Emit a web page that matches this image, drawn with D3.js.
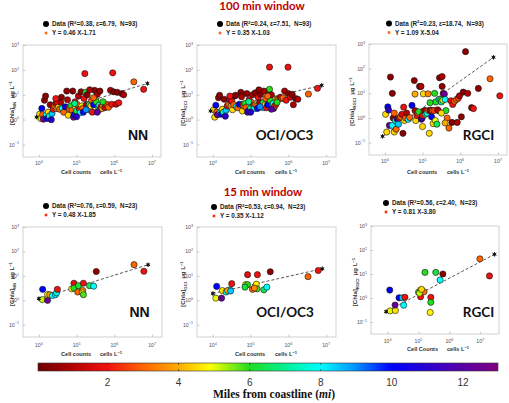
<!DOCTYPE html>
<html><head><meta charset="utf-8">
<script src="https://cdn.jsdelivr.net/npm/d3@7"></script>
<style>
body{margin:0;background:#fff}
svg{display:block}
text{white-space:pre}
</style></head><body>
<svg id="c" width="509" height="403"></svg>
<script>
// ---------- DATA: [cells per L, Chla (ug/L), miles from coastline] ----------
const nn100 = [[1.05e4,1.66,4.5],[1.12e4,1.12,4.5],[1.2e4,2.82,10],[1.26e4,1.58,3],[1.32e4,1.05,12.5],[1.41e4,6.03,0.5],[1.51e4,8.91,0.5],[1.58e4,1.58,8],[1.66e4,1.12,10],[1.78e4,2.0,4.5],[1.91e4,1.41,7.5],[2.0e4,3.98,0.5],[2.14e4,1.0,11],[2.24e4,1.78,8.5],[2.4e4,2.63,2],[2.63e4,3.55,3],[2.82e4,4.47,1.5],[3.02e4,2.82,3.5],[3.16e4,4.79,2],[3.31e4,3.16,4.5],[3.55e4,2.63,3],[3.8e4,5.01,1],[4.17e4,2.82,8],[4.57e4,2.0,3],[5.01e4,3.31,10],[5.5e4,14.1,0.5],[5.75e4,6.31,1],[6.03e4,1.51,4.5],[6.31e4,3.02,2],[6.61e4,2.63,3],[7.08e4,3.55,6],[7.59e4,2.4,3],[7.94e4,14.1,0.5],[8.32e4,1.26,12.5],[8.71e4,1.58,11],[9.12e4,5.25,2],[9.55e4,3.02,4.5],[1.0e5,2.24,6.5],[1.05e5,3.98,3],[1.12e5,8.91,1],[1.2e5,2.63,2],[1.26e5,1.91,8],[1.32e5,13.2,0.5],[1.38e5,3.55,5],[1.45e5,2.82,3],[1.51e5,2.0,10],[1.58e5,7.08,2],[1.66e5,70.8,2],[1.74e5,12.6,6],[1.82e5,3.98,1],[1.91e5,10,0.5],[2.0e5,2.82,4],[2.09e5,3.31,12],[2.19e5,4.17,6.5],[2.29e5,2.4,8],[2.4e5,3.55,4.5],[2.51e5,6.03,3],[2.63e5,2.0,2],[2.82e5,3.98,10],[3.02e5,15.1,0.5],[3.16e5,6.61,4.5],[3.31e5,5.25,6],[3.55e5,10.5,1],[3.8e5,3.16,7],[3.98e5,3.8,8],[4.17e5,2.63,3],[4.47e5,3.31,2],[4.79e5,2.82,4.5],[5.01e5,3.55,3.5],[5.62e5,3.02,1.5],[6.31e5,4.17,2.5],[7.08e5,3.16,3],[7.94e5,15.1,1],[8.51e5,4.17,2],[9.12e5,75.9,2],[9.55e5,13.2,0.5],[1.12e6,4.17,1.5],[1.2e6,12.6,0.5],[1.32e6,4.79,2],[1.58e6,11.2,0.5],[1.78e6,10,1],[3.31e6,33.1,3],[6.03e6,16.6,2],[2.82e5,7.59,3],[2.24e5,15.8,1],[3.98e4,7.94,0.5],[3.55e5,2.0,12],[2.82e4,7.08,2],[1.0e5,1.32,11],[5.01e5,5.25,6],[1.78e5,2.51,9],[8.91e4,4.47,7],[4.17e5,14.1,0.5]];

const oci100 = [[1.05e4,2.51,4.5],[1.12e4,1.26,4.5],[1.2e4,3.8,10],[1.26e4,2.0,3],[1.32e4,1.58,12.5],[1.41e4,7.59,0.5],[1.51e4,9.55,0.5],[1.58e4,1.91,8],[1.66e4,1.66,10],[1.78e4,2.63,4.5],[1.91e4,2.0,7.5],[2.0e4,6.61,0.5],[2.14e4,1.38,11],[2.24e4,2.4,8.5],[2.4e4,3.55,2],[2.63e4,4.17,3],[2.82e4,6.31,1.5],[3.02e4,3.55,3.5],[3.16e4,5.62,2],[3.31e4,2.51,4.5],[3.55e4,3.98,3],[3.8e4,8.91,1],[4.17e4,3.31,8],[4.57e4,3.02,3],[5.01e4,4.17,10],[5.5e4,12.6,0.5],[5.75e4,8.32,1],[6.03e4,2.24,4.5],[6.31e4,4.17,2],[6.61e4,3.55,3],[7.08e4,4.47,6],[7.59e4,3.16,3],[7.94e4,11.2,0.5],[8.32e4,2.0,12.5],[8.71e4,2.24,11],[9.12e4,6.31,2],[9.55e4,3.55,4.5],[1.0e5,3.02,6.5],[1.05e5,5.01,3],[1.12e5,10,1],[1.2e5,3.8,2],[1.26e5,2.82,8],[1.32e5,12.0,0.5],[1.38e5,3.98,5],[1.45e5,3.55,3],[1.51e5,2.82,10],[1.58e5,7.94,2],[1.74e5,4.79,1],[1.82e5,10.5,0.5],[1.91e5,3.55,4],[2.0e5,3.16,12],[2.14e5,4.79,6.5],[2.29e5,3.02,8],[2.4e5,3.98,4.5],[2.51e5,7.08,3],[2.63e5,3.02,2],[2.82e5,3.98,10],[3.02e5,14.1,0.5],[3.16e5,129,2],[3.16e5,16.6,6],[3.31e5,6.03,6],[3.55e5,10,1],[3.8e5,3.98,7],[3.98e5,4.47,8],[4.07e5,2.82,12.5],[4.37e5,3.55,3],[4.68e5,4.17,2],[5.01e5,6.61,4.5],[5.37e5,6.61,3.5],[6.03e5,7.94,1.5],[6.61e5,7.08,2.5],[7.24e5,7.59,3],[7.94e5,14.1,1],[8.71e5,6.03,2],[9.77e5,129,2],[1.0e6,11.2,0.5],[1.12e6,7.94,1.5],[1.26e6,10.5,0.5],[1.35e6,3.98,1],[1.55e6,7.08,0.5],[1.78e6,6.61,1],[3.39e6,10.7,3],[5.89e6,18.2,2],[2.82e5,8.91,3],[2.24e5,14.1,1],[3.98e4,9.55,0.5],[3.55e5,2.63,12],[2.82e4,8.91,2],[1.0e5,2.0,11],[5.01e5,5.01,6],[1.78e5,3.31,9],[8.91e4,5.25,7],[1.66e5,15.8,0.5]];

const rgci100 = [[1.05e4,1.41,4.5],[1.12e4,0.27,4.5],[1.2e4,2.82,10],[1.26e4,2.09,11],[1.32e4,0.5,12.5],[1.41e4,45.7,0.5],[1.58e4,10,0.5],[1.58e4,0.5,8],[1.66e4,1.0,0.5],[1.78e4,0.27,4.5],[1.91e4,0.79,7.5],[2.0e4,0.35,3],[2.14e4,0.89,11],[2.29e4,0.56,8.5],[2.4e4,1.0,2],[2.63e4,1.12,3],[2.82e4,1.41,1.5],[3.02e4,0.24,0.5],[3.16e4,2.75,2],[3.31e4,0.79,4.5],[3.55e4,1.0,3],[3.8e4,1.58,1],[4.17e4,0.89,8],[4.57e4,1.05,3],[5.25e4,3.24,10],[6.03e4,33.1,0.5],[6.31e4,9.33,4],[6.31e4,2.0,1],[6.61e4,0.79,4.5],[7.08e4,1.26,2],[7.59e4,1.58,3],[7.94e4,1.78,6],[8.32e4,19.1,0.5],[9.12e4,19.1,1],[9.33e4,0.89,12.5],[9.77e4,1.0,11],[1.0e5,1.26,2],[1.05e5,9.55,4.5],[1.1e5,1.91,3],[1.15e5,2.0,1],[1.2e5,1.41,6.5],[1.26e5,1.91,2],[1.32e5,1.58,8],[1.41e5,9.55,3.5],[1.45e5,2.0,3],[1.51e5,0.24,4.5],[1.58e5,2.0,2],[1.66e5,2.09,0.5],[1.74e5,1.12,10],[1.82e5,2.0,3],[1.91e5,0.59,4.5],[2.0e5,2.0,2.5],[2.09e5,10,6],[2.19e5,0.79,5],[2.24e5,4.47,6],[2.4e5,0.56,6.5],[2.51e5,2.14,2],[2.63e5,2.0,1],[2.75e5,5.75,8],[2.82e5,42.7,0.5],[3.02e5,5.62,6],[3.16e5,4.47,7],[3.31e5,47.9,1],[3.31e5,19.1,0.5],[3.47e5,5.25,5],[3.55e5,10,0.5],[3.8e5,9.33,12.5],[3.98e5,5.62,8],[4.17e5,2.0,6],[4.47e5,1.0,3],[5.01e5,0.39,3],[5.62e5,5.01,2],[6.03e5,0.66,0.5],[6.31e5,3.55,2],[7.08e5,4.79,3],[7.94e5,5.62,3],[8.32e5,0.66,1],[8.91e5,6.31,2.5],[9.55e5,7.94,1],[1.07e6,1.12,0.5],[1.2e6,11.2,0.5],[1.38e6,490,0.5],[1.58e6,10,1],[2.0e6,2.63,0.5],[2.24e6,2.4,2],[3.02e6,15.8,0.5],[6.17e6,38.9,3],[1.12e7,7.94,2],[3.16e5,1.58,4.5],[1.78e4,1.58,3],[1.0e5,0.45,4.5],[3.98e5,0.63,4],[1.58e5,4.17,6]];

const nn15 = [[1.26e4,2.82,10],[1.23e4,1.07,5.2],[1.7e4,1.0,12.5],[1.7e4,1.74,4.6],[1.95e4,1.7,3.8],[2.29e4,1.58,8],[2.75e4,1.7,8.3],[2.95e4,2.04,7.8],[3.09e4,2.82,2],[8.5e4,5.0,1.8],[7.4e4,2.95,4.8],[8.5e4,3.16,6],[1.12e5,3.98,6.2],[1.07e5,2.19,3],[1.51e5,5.0,2],[1.45e5,2.51,3.5],[1.45e5,2.0,4.8],[1.51e5,1.7,5.8],[2.19e5,3.98,6.5],[2.82e5,3.8,8],[3.31e5,15.1,0.5],[3.31e6,28.8,3],[6.03e6,15.5,2]];

const oci15 = [[1.26e4,3.72,10],[1.2e4,1.23,5],[1.7e4,1.23,12.5],[1.78e4,2.51,4.6],[2.24e4,2.19,8],[2.82e4,2.69,8.3],[2.45e4,2.51,3.8],[2.95e4,2.4,8.5],[3.16e4,4.79,2],[8.3e4,11.2,1.8],[1.51e5,11.2,2],[3.31e5,14.8,0.5],[7.4e4,4.37,4.8],[8.3e4,4.37,6],[1.12e5,2.82,3],[1.41e5,4.57,4.8],[1.48e5,2.95,5.8],[1.26e5,3.16,3.5],[2.24e5,2.69,6.5],[2.69e5,3.47,8],[7.1e4,3.47,6.2],[3.31e6,9.33,3],[6.17e6,16.6,2]];

const rgci15 = [[1.17e4,2.14,10],[1.2e4,0.29,5],[1.78e4,0.3,4.6],[1.74e4,0.51,12.5],[2.34e4,1.02,10],[3.02e4,1.02,8.3],[3.63e4,1.07,2],[3.31e4,0.5,8],[1.0e5,1.74,5.8],[1.17e5,2.14,3.8],[1.51e5,1.82,3.2],[1.17e5,1.12,2],[1.62e5,11.7,6],[3.63e5,11.7,6.2],[6.17e5,10,0.5],[5.01e5,5.62,8],[2.51e5,1.07,2],[2.51e5,0.66,6],[2.4e5,0.25,4.8],[1.07e5,1.58,5.2],[1.26e5,2.29,4.5],[9.77e6,42.7,3],[2.0e7,8.32,2]];

// fitted-line end points [[cells, chla],[cells, chla]]
const fitNN100 = [[8.7e3,1.27],[7.6e6,28.5]];
const fitOCI100 = [[8.7e3,2.23],[7.6e6,23.9]];
const fitRGCI100 = [[8.7e3,0.18],[7.6e6,288]];
const fitNN15 = [[1.0e4,1.17],[7.8e6,28.6]];
const fitOCI15 = [[1.0e4,1.91],[7.9e6,19.7]];
const fitRGCI15 = [[8.9e3,0.27],[2.9e7,66]];

// legend statistics
const r2Vals = ['0.38','0.24','0.23','0.76','0.53','0.56'];
const epsVals = ['6.79','7.51','18.74','0.59','0.94','2.40'];
const nVals = [93,93,93,23,23,23];
const fitEqs = ['Y = 0.46 X-1.71','Y = 0.35 X-1.03','Y = 1.09 X-5.04','Y = 0.48 X-1.85','Y = 0.35 X-1.12','Y = 0.81 X-3.80'];
const panelNames = ['NN','OCI/OC3','RGCI','NN','OCI/OC3','RGCI'];
const ySubs = ['NN','OCI','RGCI','NN','OCI','RGCI'];
const windowTitles = ['100 min window','15 min window'];

// tick values
const cellTicks = [1e4,1e5,1e6,1e7];
const chlaTicks = [1e-1,1,10,100,1000];
const milesTicks = [2,4,6,8,10,12];

// ---------- COLOUR MAP ----------
const cmapStops = [[0,'#6a0000'],[1,'#b00000'],[2,'#f01010'],[3,'#ff6400'],[4,'#ffaa00'],[4.9,'#ffff00'],[6,'#22dd22'],[7,'#00f090'],[8,'#00ffff'],[9,'#0090ff'],[10,'#0000ff'],[11,'#2a00d0'],[12,'#5a00a8'],[13,'#800080']];
const color = d3.scaleLinear().domain(cmapStops.map(d=>d[0])).range(cmapStops.map(d=>d[1])).interpolate(d3.interpolateRgb).clamp(true);

// ---------- LAYOUT ----------
const svg = d3.select('#c');
const panels = [
  {pts:nn100, fit:fitNN100, box:[23,45,161,157], xlog:[3.58,7.24], leg:[46,24], legCol:'#ff6a1a', nameXY:[138,140], ylabX:14, xlabX:[61,100], xlabY:174, tickY:165, xlabText:'Cell counts'},
  {pts:oci100, fit:fitOCI100, box:[197,45,336,157], xlog:[3.58,7.26], leg:[220,24], legCol:'#ff6a1a', nameXY:[284.5,140], ylabX:185, xlabX:[235,275], xlabY:174, tickY:165, xlabText:'Cell counts'},
  {pts:rgci100, fit:fitRGCI100, box:[369,44,507,155], xlog:[3.58,7.24], leg:[389,23.5], legCol:'#ff6a1a', nameXY:[478.5,140], ylabX:354, xlabX:[407,447], xlabY:174, tickY:163, xlabText:'Cell counts'},
  {pts:nn15, fit:fitNN15, box:[23,227,162,337], xlog:[3.58,7.26], leg:[46,206], legCol:'#ff2a10', nameXY:[139.5,317], ylabX:14, xlabX:[61,100], xlabY:356, tickY:347, xlabText:'Cell counts'},
  {pts:oci15, fit:fitOCI15, box:[197,227,336,337], xlog:[3.58,7.26], leg:[214,207], legCol:'#ff2a10', nameXY:[285,317], ylabX:185, xlabX:[235,275], xlabY:356, tickY:347, xlabText:'Cell counts'},
  {pts:rgci15, fit:fitRGCI15, box:[371,226,499,334], xlog:[3.46,7.61], leg:[386,203], legCol:'#ff2a10', nameXY:[478.5,317], ylabX:357, xlabX:[407,447], xlabY:351, tickY:343, xlabText:'Cell Counts'}
];

const expStr = e => e < 0 ? '\u2212' + (-e) : String(e);

function powLabel(sel, v, fs) {
  const e = Math.round(Math.log10(v));
  sel.text('10');
  sel.append('tspan').attr('dy', -fs*0.45).attr('font-size', fs*0.72).text(expStr(e));
}

panels.forEach((p, i) => {
  const [x0,y0,x1,y1] = p.box;
  const x = d3.scaleLog().domain([10**p.xlog[0], 10**p.xlog[1]]).range([x0,x1]);
  const y = d3.scaleLog().domain([10**-1.5, 1000]).range([y1,y0]);
  const g = svg.append('g');

  // box
  g.append('rect').attr('x',x0).attr('y',y0).attr('width',x1-x0).attr('height',y1-y0)
    .attr('fill','none').attr('stroke','#c6c6c6').attr('stroke-width',0.8);

  // axes ticks (inward)
  const ax = g.append('g').attr('transform',`translate(0,${y1})`)
    .call(d3.axisBottom(x).tickValues(cellTicks).tickSize(-2.5).tickFormat(''));
  const ay = g.append('g').attr('transform',`translate(${x0},0)`)
    .call(d3.axisLeft(y).tickValues(chlaTicks).tickSize(-2.5).tickFormat(''));
  [ax, ay].forEach(a => { a.select('.domain').remove(); a.selectAll('line').attr('stroke','#aaa').attr('stroke-width',0.6); });

  // tick labels
  cellTicks.forEach(t => {
    const tx = g.append('text').attr('x', x(t)).attr('y', p.tickY).attr('text-anchor','middle')
      .attr('font-family','Liberation Sans, Arial, sans-serif').attr('font-size',5.2).attr('fill','#555');
    powLabel(tx, t, 5.2);
  });
  chlaTicks.forEach(t => {
    const tx = g.append('text').attr('x', x0-4).attr('y', y(t)+2).attr('text-anchor','end')
      .attr('font-family','Liberation Sans, Arial, sans-serif').attr('font-size',5.2).attr('fill','#555');
    powLabel(tx, t, 5.2);
  });

  // fit line
  const f = p.fit;
  g.append('line').attr('x1',x(f[0][0])).attr('y1',y(f[0][1])).attr('x2',x(f[1][0])).attr('y2',y(f[1][1]))
    .attr('stroke','#444').attr('stroke-width',0.9).attr('stroke-dasharray','3,2');

  // points
  g.append('g').selectAll('circle').data(p.pts).join('circle')
    .attr('cx', d => x(d[0])).attr('cy', d => y(d[1])).attr('r', 3.1)
    .attr('fill', d => color(d[2])).attr('stroke','#111').attr('stroke-width',0.6);

  // line end markers
  g.append('g').selectAll('path').data(f).join('path')
    .attr('transform', d => `translate(${x(d[0])},${y(d[1])})`)
    .attr('d', d3.symbol(d3.symbolAsterisk, 14))
    .attr('stroke','#111').attr('stroke-width',1).attr('fill','none');
  g.append('g').selectAll('circle').data(f).join('circle')
    .attr('cx', d => x(d[0])).attr('cy', d => y(d[1])).attr('r',1.3).attr('fill','#111');

  // panel name
  const isNN = panelNames[i] === 'NN';
  g.append('text').attr('x', p.nameXY[0]).attr('y', p.nameXY[1]).attr('text-anchor','middle')
    .attr('font-family', isNN ? 'Liberation Sans, Arial, sans-serif' : 'Lato, Open Sans, sans-serif')
    .attr('font-weight','bold').attr('font-size', isNN ? 14 : 13.5).attr('fill','#111')
    .text(panelNames[i]);

  // legend
  const [lx, ly] = p.leg;
  g.append('circle').attr('cx',lx).attr('cy',ly).attr('r',3).attr('fill','#000');
  const lt = g.append('text').attr('x',lx+6).attr('y',ly+2.3)
    .attr('font-family','Liberation Sans, Arial, sans-serif').attr('font-weight','bold').attr('font-size',6.3).attr('fill','#222');
  lt.append('tspan').text('Data (R');
  lt.append('tspan').attr('dy',-2.4).attr('font-size',4.4).text('2');
  lt.append('tspan').attr('dy',2.4).text(`=${r2Vals[i]}, \u03b5=${epsVals[i]},  N=${nVals[i]})`);
  g.append('rect').attr('x',lx-1.3).attr('y',ly+9-1.3).attr('width',2.6).attr('height',2.6).attr('fill',p.legCol);
  g.append('text').attr('x',lx+6).attr('y',ly+11.3)
    .attr('font-family','Liberation Sans, Arial, sans-serif').attr('font-weight','bold').attr('font-size',6.3).attr('fill','#222')
    .text(fitEqs[i]);

  // x label
  const xl = g.append('g').attr('font-family','Liberation Sans, Arial, sans-serif').attr('font-weight','bold')
    .attr('font-size',5.6).attr('fill','#333');
  xl.append('text').attr('x',p.xlabX[0]).attr('y',p.xlabY).text(p.xlabText);
  const xc = xl.append('text').attr('x',p.xlabX[1]).attr('y',p.xlabY);
  xc.append('tspan').text('cells L');
  xc.append('tspan').attr('dy',-2.2).attr('font-size',4.2).text('\u22121');

  // y label
  const yc = (y0+y1)/2 + 2;
  const yl = g.append('text').attr('transform',`translate(${p.ylabX},${yc}) rotate(-90)`).attr('text-anchor','middle')
    .attr('font-family','Liberation Sans, Arial, sans-serif').attr('font-weight','bold').attr('font-size',6).attr('fill','#333');
  yl.append('tspan').text('[Chla]');
  yl.append('tspan').attr('dy',1.6).attr('font-size',4.2).text(ySubs[i]);
  yl.append('tspan').attr('dy',-1.6).text('  \u03bcg L');
  yl.append('tspan').attr('dy',-2.2).attr('font-size',4.2).text('\u22121');
});

// window titles
[[262,10],[263,196]].forEach((pos, k) => {
  svg.append('text').attr('x',pos[0]).attr('y',pos[1]).attr('text-anchor','middle')
    .attr('font-family','Lato, Open Sans, sans-serif').attr('font-weight','bold').attr('font-size',11.5)
    .attr('fill','#c00000').text(windowTitles[k]);
});

// ---------- COLOUR BAR ----------
const cb = {x0:38, x1:498, y0:363, y1:371};
const cx = d3.scaleLinear().domain([0.06,13]).range([cb.x0,cb.x1]);
const defs = svg.append('defs');
const grad = defs.append('linearGradient').attr('id','cbar').attr('x1','0%').attr('x2','100%');
d3.range(0, 101).forEach(k => {
  const v = 0.06 + (13-0.06)*k/100;
  grad.append('stop').attr('offset', k + '%').attr('stop-color', color(v));
});
svg.append('rect').attr('x',cb.x0).attr('y',cb.y0).attr('width',cb.x1-cb.x0).attr('height',cb.y1-cb.y0)
  .attr('fill','url(#cbar)').attr('stroke','#333').attr('stroke-width',0.6);
const cax = svg.append('g').attr('transform',`translate(0,${cb.y1})`)
  .call(d3.axisBottom(cx).tickValues(milesTicks).tickSize(-2).tickPadding(8).tickFormat(d3.format('d')));
cax.select('.domain').remove();
cax.selectAll('line').attr('stroke','#333').attr('stroke-width',0.7);
cax.selectAll('text').attr('font-family','Liberation Sans, Arial, sans-serif').attr('font-size',10).attr('fill','#333');
const caxTop = svg.append('g').attr('transform',`translate(0,${cb.y0})`)
  .call(d3.axisTop(cx).tickValues(milesTicks).tickSize(-2).tickFormat(''));
caxTop.select('.domain').remove();
caxTop.selectAll('line').attr('stroke','#333').attr('stroke-width',0.7);

const cl = svg.append('text').attr('x',274).attr('y',398).attr('text-anchor','middle')
  .attr('font-family','Liberation Serif, Times New Roman, serif').attr('font-weight','bold').attr('font-size',11.5).attr('fill','#111');
cl.append('tspan').text('Miles from coastline (');
cl.append('tspan').attr('font-style','italic').text('mi');
cl.append('tspan').text(')');
</script>
</body></html>
